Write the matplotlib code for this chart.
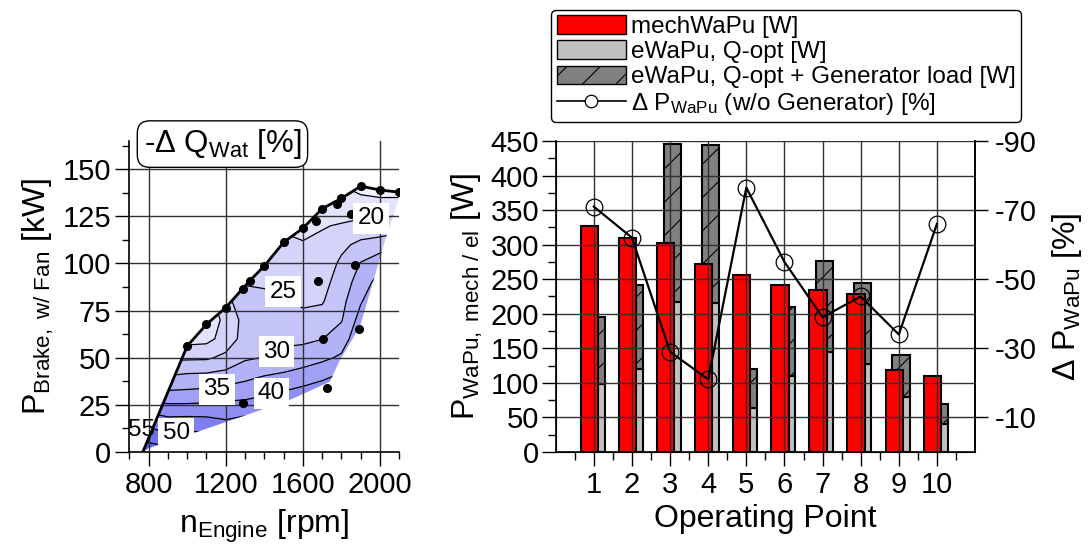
import numpy as np
import matplotlib
matplotlib.use("Agg")
import matplotlib.pyplot as plt
import matplotlib.ticker as ticker
from matplotlib.patches import Patch, Polygon
from matplotlib.lines import Line2D

plt.rcParams['font.family'] = ['Liberation Sans', 'DejaVu Sans']
plt.rcParams['mathtext.fontset'] = 'custom'
plt.rcParams['mathtext.rm'] = 'Liberation Sans'
plt.rcParams['mathtext.it'] = 'Liberation Sans:italic'
plt.rcParams['mathtext.bf'] = 'Liberation Sans:bold'
plt.rcParams['axes.unicode_minus'] = False
plt.rcParams['hatch.linewidth'] = 0.8

# ── Kennfeld (links) ──────────────────────────────────────────────────────────
# Volllastlinie
FL_RPM = [770, 1000, 1100, 1200, 1325, 1400, 1500, 1600, 1700, 1800, 1900, 2000, 2100]
FL_KW  = [0, 56.2, 67.7, 76.6, 90.9, 98.7, 111.2, 118.7, 129.1, 134.6, 141.0, 139.0, 137.8]

# untere / rechte Grenze des Kennfelds
LOW_RPM = [2090, 2031, 1896, 1792, 1740, 1532, 1056, 800]
LOW_KW  = [132.0, 113.9, 66.5, 48.8, 37.3, 27.6, 10.8, 2.0]

# Messpunkte
PT_RPM = [1000, 1100, 1200, 1290, 1325, 1400, 1500, 1600, 1666, 1700, 1778,
          1800, 1848, 1900, 2000, 2100, 1680, 1868, 1706, 1893, 1290, 1726]
PT_KW  = [56.2, 67.7, 76.6, 86.5, 90.9, 98.7, 111.2, 118.7, 122.6, 129.1, 131.6,
          134.6, 126.1, 141.0, 139.0, 137.8, 90.7, 99.0, 60.0, 65.3, 26.2, 33.8]

RPM_GRID = [700, 800, 900, 1000, 1100, 1200, 1300, 1400, 1500, 1600, 1700, 1800, 1900, 2000, 2100, 2200]
KW_GRID  = [0, 10, 20, 30, 40, 50, 60, 70, 80, 90, 100, 110, 120, 130, 140, 150]
Q_GRID = [
    [60, 54, 47, 40, 33, 27, 22, 19, 17, 16, 15, 14, 13, 12, 11, 10],                   # 700
    [58, 52, 45.5, 38, 31, 25, 20, 17.5, 16.5, 16, 15, 14, 13, 12, 11, 10],             # 800
    [57, 50, 44.2, 36.7, 30.3, 24, 19, 17, 16.5, 16, 15, 14, 13, 12, 11, 10],           # 900
    [55, 51, 44.2, 36.8, 31.1, 24.2, 18, 16.5, 16.5, 16, 15.5, 14.5, 13.5, 12.5, 11.5, 10.5],  # 1000
    [52, 50, 44.2, 37.3, 31.3, 24.3, 18.5, 17, 17, 17, 16, 15, 14, 13, 12, 11],         # 1100
    [50, 48, 43.8, 38.3, 32.1, 26.2, 22, 21.2, 24.5, 20.5, 19.5, 18.5, 17.5, 16.5, 15, 14],    # 1200
    [50, 48, 44.7, 38.6, 33.8, 29.3, 27, 26.8, 26, 24.8, 23, 21.5, 20.5, 19.5, 18, 17], # 1300
    [50, 48, 45, 39.9, 35.2, 30.2, 28.7, 27.4, 26.0, 24.5, 22.5, 21, 20, 19, 18, 17],   # 1400
    [52, 50, 46, 41.2, 36, 31.5, 28.9, 27.2, 25.5, 23.9, 22.3, 20.8, 19.5, 18.5, 17.5, 16.5],  # 1500
    [54, 51, 47, 42.6, 37.2, 32.6, 28.9, 26.2, 24.3, 23.0, 21.7, 20.4, 18.5, 17.5, 16.5, 15.5],  # 1600
    [55, 52, 48, 44, 38.9, 33.9, 29.9, 26.9, 24.6, 23.4, 22.2, 21.0, 19.7, 18.5, 17, 16],      # 1700
    [56, 53, 50, 46, 41, 35.8, 32.4, 29.7, 28.5, 27.2, 25.9, 23.9, 20.4, 17.5, 15.5, 14],      # 1800
    [58, 55, 52, 48, 44, 41, 39, 37, 34.6, 32.4, 30.3, 26.2, 21.5, 17.4, 13.7, 11],            # 1900
    [58, 56, 53, 50, 47, 44, 42, 40, 39, 37, 33.6, 27.1, 22, 17.3, 12.7, 10],                  # 2000
    [58, 56, 53, 50, 47, 44, 42, 40, 39, 37, 34, 28, 23, 17.5, 12.5, 10],                      # 2100
    [58, 56, 53, 50, 47, 44, 42, 40, 39, 37, 34, 28, 23, 17.5, 12.5, 10],                      # 2200
]
Q_LEVELS = [0, 15, 20, 25, 30, 35, 40, 45, 50, 55, 65]
Q_COLORS = ['#efefff', '#e3e3fd', '#d4d4fb', '#c4c4f9', '#b2b2f7', '#a0a0f5',
            '#8e8ef3', '#7e7ef1', '#7070ef', '#6464ec']
LINE_LEVELS = [15, 20, 25, 30, 35, 40, 45, 50, 55]

# Beschriftung der Isolinien (Text, Drehzahl, Leistung)
CL_TEXT = ['20', '25', '30', '35', '40', '50']
CL_RPM  = [1953, 1498, 1463, 1155, 1437, 944]
CL_KW   = [124, 85, 53.2, 33.2, 31.1, 9.9]

# ── Wasserpumpe (rechts) ──────────────────────────────────────────────────────
OP    = [1, 2, 3, 4, 5, 6, 7, 8, 9, 10]
MECH  = [327, 309, 303, 272, 256, 241, 234, 228, 118, 110]
EQOPT = [98, 120, 217, 216, 63, 110, 144, 127, 79, 40]
EGEN  = [195, 242, 446, 444, 120, 210, 277, 244, 140, 69]
DPWP  = [-71, -62, -29, -21, -76.5, -55, -39, -45, -34, -66]

TICK_FS  = 21
LABEL_FS = 23

fig = plt.figure(figsize=(10.92, 5.46), dpi=100)

# ══════════════════════════════════════════════════════════════════════════════
# links: Kennfeld
# ══════════════════════════════════════════════════════════════════════════════
axL = fig.add_axes([0.1184, 0.1722, 0.2473, 0.5696])
Xg, Yg = np.meshgrid(RPM_GRID, KW_GRID)
Zg = np.array(Q_GRID).T

cf = axL.contourf(Xg, Yg, Zg, levels=Q_LEVELS, colors=Q_COLORS, zorder=1)
cs = axL.contour(Xg, Yg, Zg, levels=LINE_LEVELS, colors='black',
                 linewidths=0.9, zorder=2)

bx = FL_RPM + LOW_RPM
by = FL_KW + LOW_KW
clip = Polygon(np.column_stack([bx, by]), closed=True, transform=axL.transData,
               facecolor='none', edgecolor='none')
axL.add_patch(clip)
cf.set_clip_path(clip)
cs.set_clip_path(clip)

axL.plot(FL_RPM, FL_KW, color='black', lw=2, zorder=4)
axL.plot(PT_RPM, PT_KW, 'o', color='black', ms=5.5, zorder=5)

for t, xr, yk in zip(CL_TEXT, CL_RPM, CL_KW):
    axL.text(xr, yk, t, fontsize=17.5, ha='center', va='center', zorder=6,
             bbox=dict(boxstyle='square,pad=0.18', facecolor='white', edgecolor='none'))
axL.text(762, 11.7, '55', fontsize=17.5, ha='center', va='center', zorder=6)

axL.set_xlim(700, 2100)
axL.set_ylim(0, 165)
axL.xaxis.set_major_locator(ticker.FixedLocator([800, 1200, 1600, 2000]))
axL.xaxis.set_minor_locator(ticker.MultipleLocator(100))
axL.yaxis.set_major_locator(ticker.FixedLocator([0, 25, 50, 75, 100, 125, 150]))
axL.yaxis.set_minor_locator(ticker.MultipleLocator(12.5))
axL.set_axisbelow(False)
axL.grid(True, which='major', color='#303030', lw=1.0)
axL.spines['top'].set_visible(False)
axL.spines['right'].set_visible(False)
for s in ['left', 'bottom']:
    axL.spines[s].set_linewidth(1.2)
axL.tick_params(which='major', direction='out', length=10, width=1, labelsize=TICK_FS)
axL.tick_params(which='minor', direction='out', length=5, width=1)
axL.tick_params(axis='y', pad=3)
axL.tick_params(axis='x', pad=4)
axL.set_xlabel(r'n$_{\mathrm{Engine}}$ [rpm]', fontsize=LABEL_FS, labelpad=6)
axL.set_ylabel(r'P$_{\mathrm{Brake,\ w/\ Fan}}$ [kW]', fontsize=LABEL_FS, labelpad=5)

axL.text(0.345, 0.99, r'-Δ Q$_{\mathrm{Wat}}$ [%]', transform=axL.transAxes,
         fontsize=22.5, ha='center', va='center', zorder=10,
         bbox=dict(boxstyle='round,pad=0.2,rounding_size=0.4',
                   facecolor='white', edgecolor='black', lw=1))

# ══════════════════════════════════════════════════════════════════════════════
# rechts: Leistung Wasserpumpe
# ══════════════════════════════════════════════════════════════════════════════
axR = fig.add_axes([0.5089, 0.1722, 0.384, 0.5696])
xp = np.array(OP)
gen_part = np.array(EGEN) - np.array(EQOPT)
axR.bar(xp + 0.055, EQOPT, width=0.455, color='#c0c0c0', edgecolor='black', lw=1.5)
axR.bar(xp + 0.055, gen_part, bottom=EQOPT, width=0.455, color='#808080',
        edgecolor='black', hatch='/', lw=1.5)
axR.bar(xp - 0.12, MECH, width=0.455, color='#ff0000', edgecolor='black', lw=1.5)

axR.set_xlim(0, 11)
axR.set_ylim(0, 450)
axR.xaxis.set_major_locator(ticker.FixedLocator(OP))
axR.xaxis.set_minor_locator(ticker.FixedLocator(np.arange(0.5, 11, 1)))
axR.yaxis.set_major_locator(ticker.MultipleLocator(50))
axR.yaxis.set_minor_locator(ticker.MultipleLocator(25))
axR.set_axisbelow(False)
axR.grid(True, which='major', color='#303030', lw=1.0)
axR.spines['top'].set_visible(False)
for s in ['left', 'bottom', 'right']:
    axR.spines[s].set_linewidth(1.2)
axR.tick_params(which='major', direction='out', length=10, width=1, labelsize=TICK_FS)
axR.tick_params(which='minor', direction='out', length=6, width=1)
axR.tick_params(axis='y', pad=2)
axR.set_xlabel('Operating Point', fontsize=LABEL_FS, labelpad=4)
axR.set_ylabel(r'P$_{\mathrm{WaPu,\ mech\ /\ el}}$ [W]', fontsize=LABEL_FS, labelpad=4)

ax2 = axR.twinx()
ax2.plot(xp, DPWP, color='black', lw=1.6, marker='o', ms=12,
         mfc='none', mec='black', mew=0.9, zorder=5)
ax2.set_ylim(0, -90)
ax2.yaxis.set_major_locator(ticker.FixedLocator([-10, -30, -50, -70, -90]))
ax2.spines['top'].set_visible(False)
ax2.spines['right'].set_linewidth(1.2)
ax2.tick_params(direction='out', length=9, width=1, labelsize=TICK_FS, pad=5)
ax2.set_ylabel(r'Δ P$_{\mathrm{WaPu}}$ [%]', fontsize=LABEL_FS, labelpad=10)

handles = [
    Patch(facecolor='#ff0000', edgecolor='black', lw=1),
    Patch(facecolor='#c0c0c0', edgecolor='black', lw=1),
    Patch(facecolor='#808080', edgecolor='black', lw=1, hatch='/'),
    Line2D([], [], color='black', lw=1.2, marker='o', ms=9, mfc='white',
           mec='black', mew=0.9),
]
labels = ['mechWaPu [W]', 'eWaPu, Q-opt [W]', 'eWaPu, Q-opt + Generator load [W]',
          r'Δ P$_{\mathrm{WaPu}}$ (w/o Generator) [%]']
leg = fig.legend(handles, labels, loc='upper left', bbox_to_anchor=(0.505, 0.982),
                 fontsize=17.5, frameon=True, fancybox=True, framealpha=1,
                 edgecolor='black', handlelength=2.85, handleheight=0.8,
                 labelspacing=0.1, borderpad=0.22, handletextpad=0.2,
                 borderaxespad=0)
leg.get_frame().set_linewidth(1)

fig.savefig('out.png', dpi=100)
